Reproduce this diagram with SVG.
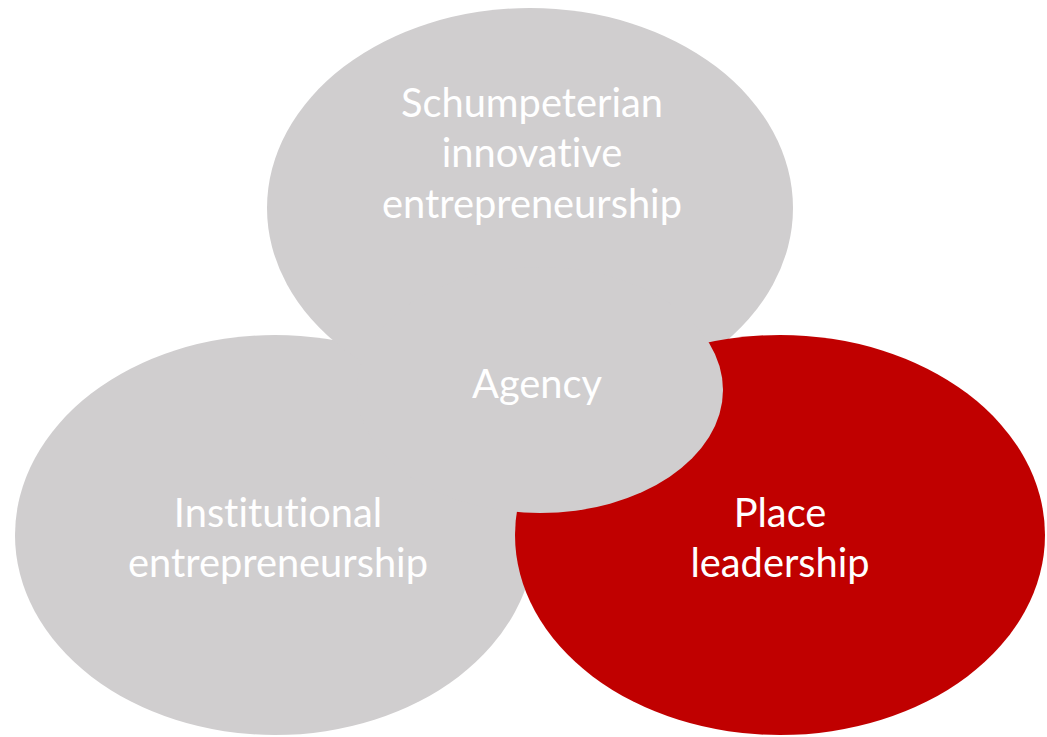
<svg xmlns="http://www.w3.org/2000/svg" width="1047" height="737" viewBox="0 0 1047 737">
  <style>
    .gray { fill: #D0CECF; }
    .red { fill: #C00000; }
    .lbl { font-family: Lato, "Open Sans", "Liberation Sans", sans-serif; font-size: 39.8px; fill: #FFFFFF; text-anchor: middle; font-variant-ligatures: none; font-feature-settings: "liga" 0, "dlig" 0; }
  </style>
  <rect width="1047" height="737" fill="#FFFFFF"/>
  <g id="institutional">
    <ellipse class="gray" cx="275" cy="535" rx="260" ry="200"/>
  </g>
  <g id="schumpeterian">
    <ellipse class="gray" cx="530" cy="208" rx="263" ry="200"/>
  </g>
  <g id="place">
    <ellipse class="red" cx="780" cy="535" rx="265" ry="200"/>
  </g>
  <g id="agency">
    <ellipse class="gray" cx="540" cy="390" rx="183" ry="123"/>
  </g>
  <g id="connectors"/>
  <g id="labels">
    <text class="lbl" x="532" y="117">Schumpeterian</text>
    <text class="lbl" x="532" y="167">innovative</text>
    <text class="lbl" x="532" y="218">entrepreneurship</text>
    <text class="lbl" x="537" y="398">Agency</text>
    <text class="lbl" x="278" y="527">Institutional</text>
    <text class="lbl" x="278" y="577">entrepreneurship</text>
    <text class="lbl" x="780" y="527">Place</text>
    <text class="lbl" x="780" y="577">leadership</text>
  </g>
</svg>
